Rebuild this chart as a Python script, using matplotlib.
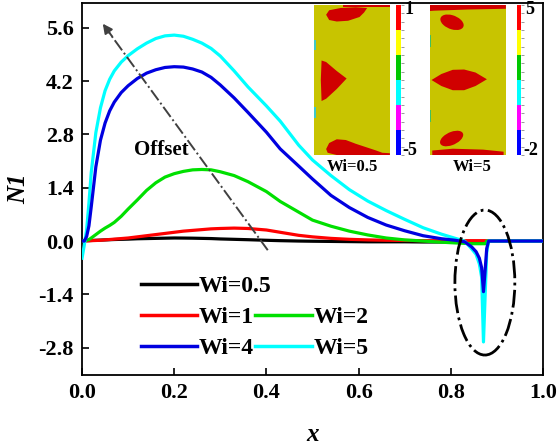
import matplotlib
matplotlib.use("Agg")
import matplotlib.pyplot as plt
from matplotlib.patches import Polygon, Ellipse, Rectangle

plt.rcParams['font.family'] = ['Liberation Serif', 'DejaVu Serif']
plt.rcParams['font.weight'] = 'bold'

# ---- data ---------------------------------------------------------------
x = [0, 0.005, 0.01, 0.015, 0.02, 0.03, 0.04, 0.05, 0.06, 0.07, 0.085, 0.1,
     0.12, 0.14, 0.16, 0.18, 0.2, 0.22, 0.24, 0.26, 0.28, 0.3, 0.33, 0.36,
     0.4, 0.43, 0.47, 0.5, 0.54, 0.58, 0.62, 0.66, 0.7, 0.74, 0.78, 0.81,
     0.83, 0.845, 0.855, 0.862, 0.867, 0.871, 0.875, 0.878, 0.882, 0.9,
     0.95, 1.0]

n1_wi05 = [0, 0.005, 0.01, 0.012, 0.015, 0.02, 0.025, 0.03, 0.035, 0.04,
           0.045, 0.05, 0.06, 0.065, 0.07, 0.075, 0.08, 0.078, 0.075, 0.07,
           0.065, 0.055, 0.045, 0.035, 0.02, 0.01, 0.0, -0.005, -0.01, -0.015,
           -0.02, -0.02, -0.02, -0.025, -0.025, -0.025, -0.03, -0.03, -0.03,
           -0.03, -0.03, -0.03, -0.03, -0.01, 0, 0, 0, 0]

n1_wi1 = [0, 0.002, 0.004, 0.006, 0.01, 0.015, 0.02, 0.03, 0.04, 0.05,
          0.065, 0.08, 0.11, 0.14, 0.17, 0.2, 0.23, 0.26, 0.28, 0.3, 0.32,
          0.33, 0.34, 0.33, 0.29, 0.23, 0.15, 0.11, 0.07, 0.045, 0.03, 0.02,
          0.015, 0.01, 0.01, 0.01, 0.01, 0.01, 0.01, 0.01, 0.01, 0.01, 0.01,
          0.005, 0, 0, 0, 0]

n1_wi2 = [0, 0.005, 0.02, 0.04, 0.08, 0.17, 0.26, 0.34, 0.41, 0.49, 0.65,
          0.84, 1.08, 1.33, 1.53, 1.68, 1.77, 1.83, 1.87, 1.88, 1.87, 1.82,
          1.72, 1.56, 1.3, 1.04, 0.76, 0.55, 0.39, 0.26, 0.16, 0.08, 0.03,
          0.0, -0.03, -0.05, -0.06, -0.07, -0.07, -0.07, -0.07, -0.07, -0.07,
          0, 0, 0, 0, 0]

n1_wi4 = [0, 0.0, 0.12, 0.4, 0.9, 1.95, 2.65, 3.1, 3.42, 3.65, 3.9,
          4.08, 4.27, 4.41, 4.5, 4.56, 4.58, 4.57, 4.52, 4.44, 4.3, 4.1,
          3.76, 3.38, 2.86, 2.42, 1.97, 1.63, 1.2, 0.88, 0.62, 0.42, 0.27,
          0.14, 0.06, 0.02, -0.02, -0.15, -0.28, -0.45, -0.7, -1.33, -0.7,
          -0.2, 0, 0, 0, 0]

n1_wi5 = [-0.45, -0.1, 0.3, 1.0, 1.8, 2.85, 3.5, 3.95, 4.25, 4.47, 4.7,
          4.87, 5.05, 5.2, 5.32, 5.39, 5.41, 5.38, 5.3, 5.2, 5.06, 4.86,
          4.47, 4.05, 3.55, 3.15, 2.52, 2.13, 1.72, 1.35, 1.05, 0.8, 0.57,
          0.35, 0.18, 0.07, 0.0, -0.2, -0.35, -0.6, -0.95, -2.65, -1.3, -0.3,
          0.0, 0, 0, 0]

labels = ['Wi=0.5', 'Wi=1', 'Wi=2', 'Wi=4', 'Wi=5']
colors = ['#000000', '#ff0000', '#00e000', '#0000e0', '#00ffff']

x_ticks = [0.0, 0.2, 0.4, 0.6, 0.8, 1.0]
y_ticks = [-2.8, -1.4, 0.0, 1.4, 2.8, 4.2, 5.6]

# ---- main axes ----------------------------------------------------------
fig = plt.figure(figsize=(5.58, 4.47), dpi=100)
ax = fig.add_axes([0.147, 0.161, 0.826, 0.832])

series = [n1_wi05, n1_wi1, n1_wi2, n1_wi4, n1_wi5]
handles = {}
zorders = [2, 3, 4, 6, 5]
for y, lab, c, z in zip(series, labels, colors, zorders):
    h, = ax.plot(x, y, color=c, lw=2.3, label=lab, zorder=z,
                 solid_joinstyle='round')
    handles[lab] = h

ax.set_xlim(0, 1.0)
ax.set_ylim(-3.52, 6.25)
ax.set_xticks(x_ticks)
ax.set_yticks(y_ticks)
ax.set_xticklabels([f'{v:.1f}' for v in x_ticks])
ax.set_yticklabels([f'{v:.1f}' for v in y_ticks])
ax.tick_params(direction='in', length=5, width=1.2, labelsize=16,
               top=False, right=False, pad=6)
for s in ax.spines.values():
    s.set_linewidth(1.3)

ax.set_xlabel('x', fontsize=18, style='italic', fontweight='bold', labelpad=14)
ax.set_ylabel('N1', fontsize=18, style='italic', fontweight='bold', labelpad=6)

# offset arrow
tail = (0.403, -0.24)
tip = (0.045, 5.71)
ax.plot([tail[0], tip[0] + 0.01], [tail[1], tip[1] - 0.17], ls='-.',
        color='#404040', lw=1.4, zorder=7)
ax.annotate('', xy=tip, xytext=(tip[0] + 0.02, tip[1] - 0.33),
            arrowprops=dict(arrowstyle='-|>', color='#404040', lw=1.4,
                            mutation_scale=14, shrinkA=0, shrinkB=0),
            zorder=7)
ax.text(0.171, 2.39, 'Offset', fontsize=15, fontweight='bold',
        ha='center', va='center', zorder=8)

# dip marker
ax.add_patch(Ellipse((0.874, -1.09), 0.13, 3.81, fill=False, ls='-.',
                     lw=2.0, color='black', zorder=8))

# legend: a single top row, then a two-column block below it
leg_kw = dict(frameon=False, fontsize=17, handlelength=2.4,
              handletextpad=0.05, labelspacing=0.4, loc='upper left',
              borderaxespad=0, borderpad=0)
leg1 = ax.legend([handles['Wi=0.5']], ['Wi=0.5'],
                 bbox_to_anchor=(0.127, 0.267), **leg_kw)
ax.add_artist(leg1)
leg2 = ax.legend([handles['Wi=1'], handles['Wi=4'],
                  handles['Wi=2'], handles['Wi=5']],
                 ['Wi=1', 'Wi=4', 'Wi=2', 'Wi=5'], ncol=2,
                 columnspacing=0.08, bbox_to_anchor=(0.127, 0.184), **leg_kw)
for lg in (leg1, leg2):
    for line in lg.get_lines():
        line.set_linewidth(2.5)

# ---- contour insets -----------------------------------------------------
bg = '#c8c400'
red = '#d00000'
cbar_colors = ['#0000ff', '#ff00ff', '#00ffff', '#00c800', '#ffff00', '#ff0000']


def add_panel(rect, shapes):
    pa = fig.add_axes(rect)
    pa.set_xlim(0, 1)
    pa.set_ylim(0, 1)
    pa.set_facecolor(bg)
    pa.set_xticks([])
    pa.set_yticks([])
    for s in pa.spines.values():
        s.set_visible(False)
    for shp in shapes:
        pa.add_patch(shp)
    return pa


def add_cbar(rect, top_label, bottom_label):
    ca = fig.add_axes(rect)
    n = len(cbar_colors)
    for i, c in enumerate(cbar_colors):
        ca.add_patch(Rectangle((0, i / n), 1, 1 / n, color=c, lw=0))
    ca.set_xlim(0, 1)
    ca.set_ylim(0, 1)
    ca.set_xticks([])
    ca.yaxis.tick_right()
    ca.set_yticks([i / 18 for i in range(19)])
    ca.set_yticklabels([])
    ca.tick_params(axis='y', length=2, width=0.6, color='#888888',
                   direction='out')
    for s in ca.spines.values():
        s.set_visible(False)
    x1 = rect[0] + rect[2] + 0.006
    fig.text(x1, rect[1] + rect[3] - 0.01, top_label, fontsize=13,
             fontweight='bold', ha='left', va='center')
    fig.text(x1 - 0.003, rect[1] + 0.01, bottom_label, fontsize=13,
             fontweight='bold', ha='left', va='center')


p1_shapes = [
    Polygon([(0.16, 0.935), (0.2, 0.965), (0.35, 0.98), (0.55, 0.985),
             (0.7, 0.98), (0.66, 0.95), (0.6, 0.92), (0.45, 0.895),
             (0.3, 0.89), (0.2, 0.9)], color=red, lw=0),
    Polygon([(0.38, 0.985), (1, 0.985), (1, 1), (0.38, 1)], color=red, lw=0),
    Polygon([(0.10, 0.63), (0.16, 0.62), (0.3, 0.56), (0.43, 0.51),
             (0.3, 0.44), (0.16, 0.375), (0.1, 0.36), (0.09, 0.5)],
            color=red, lw=0),
    Polygon([(0.16, 0.04), (0.2, 0.08), (0.3, 0.105), (0.42, 0.1),
             (0.55, 0.075), (0.7, 0.05), (0.82, 0.03), (0.9, 0.015),
             (1, 0.012), (1, 0), (0.3, 0), (0.18, 0.015)], color=red, lw=0),
    Rectangle((0.0, 0.70), 0.02, 0.07, color='#40c8c8', lw=0),
    Rectangle((0.0, 0.25), 0.02, 0.07, color='#40c8c8', lw=0),
]

p2_shapes = [
    Polygon([(0, 1), (1, 1), (1, 0.975), (0.5, 0.97), (0.05, 0.962),
             (0, 0.96)], color=red, lw=0),
    Ellipse((0.29, 0.885), 0.31, 0.095, angle=-8, color=red, lw=0),
    Polygon([(0.02, 0.5), (0.15, 0.54), (0.3, 0.568), (0.45, 0.57),
             (0.6, 0.55), (0.75, 0.505), (0.6, 0.46), (0.45, 0.432),
             (0.3, 0.432), (0.15, 0.46)], color=red, lw=0),
    Ellipse((0.285, 0.11), 0.31, 0.09, angle=10, color=red, lw=0),
    Polygon([(0.03, 0.03), (0.3, 0.042), (0.7, 0.036), (0.97, 0.022),
             (0.97, 0.0), (0.03, 0.0)], color=red, lw=0),
    Rectangle((0.0, 0.72), 0.015, 0.08, color='#40c060', lw=0),
    Rectangle((0.0, 0.22), 0.015, 0.08, color='#40c060', lw=0),
]

add_panel([0.5627, 0.6532, 0.136, 0.3356], p1_shapes)
add_cbar([0.7097, 0.6532, 0.009, 0.3356], '1', '-5')
add_panel([0.7706, 0.6532, 0.136, 0.3356], p2_shapes)
add_cbar([0.9265, 0.6532, 0.008, 0.3356], '5', '-2')

fig.text(0.632, 0.627, 'Wi=0.5', fontsize=12, fontweight='bold',
         ha='center', va='center')
fig.text(0.846, 0.627, 'Wi=5', fontsize=12, fontweight='bold',
         ha='center', va='center')

fig.savefig('out.png', dpi=100)
